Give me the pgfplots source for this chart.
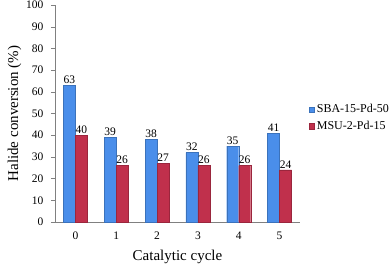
\documentclass[border=0pt]{standalone}
\usepackage{pgfplots}
\pgfplotsset{compat=1.18}
\usepackage{fontspec}
\setmainfont{Liberation Serif}
\definecolor{cblue}{HTML}{4A8EEA}
\definecolor{cred}{HTML}{C0304C}
\begin{document}
\begin{tikzpicture}
\useasboundingbox (-55pt,-45pt) rectangle (335pt,222pt);
\begin{axis}[
  at={(0pt,0pt)}, anchor=south west,
  scale only axis, width=245pt, height=217pt,
  ybar=0pt, bar width=12pt,
  xmin=-0.5, xmax=5.5, ymin=0, ymax=100,
  ytick={0,10,...,100},
  xtick={0,1,2,3,4,5},
  major x tick style={draw=none},
  extra x ticks={-0.5,0.5,1.5,2.5,3.5,4.5,5.5},
  extra x tick labels={},
  extra x tick style={major tick length=4pt, tick style={draw=gray}},
  axis x line*=bottom, axis y line*=left,
  axis line style={gray, -},
  tick align=outside,
  tick style={gray},
  major tick length=4pt,
  ytick style={gray},
  tick label style={font=\fontsize{11.5}{12}\selectfont},
  yticklabel style={xshift=-4pt},
  xticklabel style={yshift=-2pt},
  /pgf/number format/assume math mode=true,
  xlabel={Catalytic cycle},
  ylabel={Halide conversion (\%)},
  label style={font=\fontsize{15}{17}\selectfont},
  xlabel style={yshift=4pt},
  ylabel style={yshift=-2pt},
  nodes near coords,
  nodes near coords style={font=\fontsize{11.5}{12}\selectfont, text=black, inner sep=1.5pt},
  legend style={at={(rel axis cs:1.025,0.48)}, anchor=west, draw=none, fill=none,
    font=\fontsize{12}{13}\selectfont, row sep=3pt},
  legend cell align=left,
  legend image code/.code={\fill[#1] (0cm,-0.09cm) rectangle (0.18cm,0.09cm);},
]
\addplot[fill=cblue, draw=cblue!80!black] coordinates {(0,63) (1,39) (2,38) (3,32) (4,35) (5,41)};
\addplot[fill=cred, draw=cred!80!black] coordinates {(0,40) (1,26) (2,27) (3,26) (4,26) (5,24)};
\legend{SBA-15-Pd-50, MSU-2-Pd-15}
\end{axis}
\end{tikzpicture}
\end{document}
